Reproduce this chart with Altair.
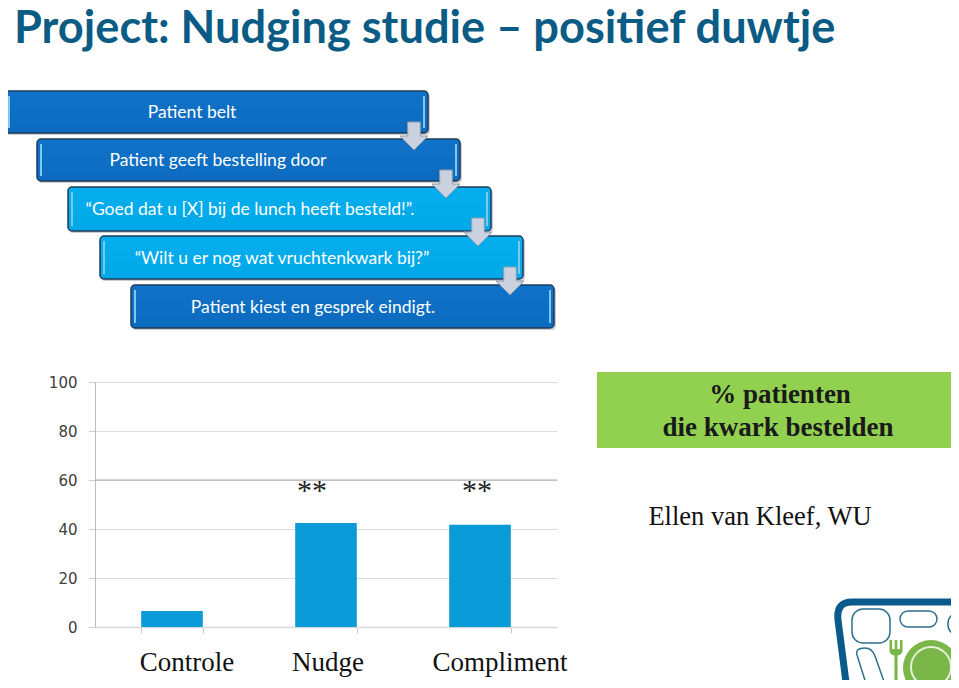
import altair as alt
import pandas as pd

TITLE = "Project: Nudging studie – positief duwtje"
CATEGORIES = ["Controle", "Nudge", "Compliment"]
VALUES = [6.5, 42.4, 41.7]
Y_TICKS = [0, 20, 40, 60, 80, 100]
STEPS = ["Patient belt", "Patient geeft bestelling door",
         "“Goed dat u [X] bij de lunch heeft besteld!”.",
         "“Wilt u er nog wat vruchtenkwark bij?”",
         "Patient kiest en gesprek eindigt."]
STEP_LIGHT = [False, False, True, True, False]
SIG = "**"
NOTE = ["% patienten", "die kwark bestelden"]
CREDIT = "Ellen van Kleef, WU"

OX, OY = 95, 382   # page position of the plot's origin
one = alt.Data(values=[{"a": 1}])
SERIF = "Liberation Serif"
SANS = "Lato"


def rect(x0, y0, x1, y1, **kw):
    return alt.Chart(one).mark_rect(**kw).encode(
        x=alt.value(x0 - OX), x2=alt.value(x1 - OX),
        y=alt.value(y0 - OY), y2=alt.value(y1 - OY))


def text(s, x, y, **kw):
    return alt.Chart(one).mark_text(**kw).encode(
        x=alt.value(x - OX), y=alt.value(y - OY), text=alt.value(s))


def symbol(path, x, y, r, **kw):
    return alt.Chart(one).mark_point(shape=path, size=(2 * r) ** 2, opacity=1, **kw).encode(
        x=alt.value(x - OX), y=alt.value(y - OY))


df = pd.DataFrame({"cat": CATEGORIES, "val": VALUES})

y_scale = alt.Scale(domain=[0, 100])
base_x = alt.X("cat:N", sort=CATEGORIES,
               scale=alt.Scale(paddingInner=0.6, paddingOuter=0.3),
               axis=alt.Axis(title=None, labels=False, tickBand="extent", tickSize=6,
                             tickColor="#c8c8c8", domainColor="#d9d9d9", domainWidth=1.5, grid=False))
base_y = alt.Y("val:Q", scale=y_scale,
               axis=alt.Axis(title=None, values=Y_TICKS, tickSize=7, tickColor="#cfcfcf",
                             domainColor="#bdbdbd", gridColor="#dcdcdc", gridWidth=1.2,
                             labelFont="DejaVu Sans", labelFontSize=15, labelColor="#404040", labelPadding=11))

bars = alt.Chart(alt.Data(values=df.to_dict("records"))).mark_bar(color="#0a9ad8").encode(x=base_x, y=base_y)
line60 = alt.Chart(alt.Data(values=[{"val": 60}])).mark_rule(color="#a8a8a8", strokeWidth=1).encode(
    y=base_y, x=alt.value(0), x2=alt.value(462))

layers = [line60, bars]

# title
layers.append(text(TITLE, 14, 43, font=SANS, fontWeight="bold", fontSize=45.2, align="left",
                   baseline="alphabetic", color="#0b5c85"))

# flow boxes
box_x = [5, 37, 68, 100, 131]
box_y = [(91, 133), (139, 181), (187, 231), (236, 279), (285, 328)]
text_x = [192, 218, 250, 282, 313]
for i, s in enumerate(STEPS):
    x0, (y0, y1) = box_x[i], box_y[i]
    x1 = x0 + 423
    top, bot = ("#06aeee", "#00a8e8") if STEP_LIGHT[i] else ("#1072c8", "#0c6bbf")
    layers.append(rect(x0 + 1, y0 + 2, x1 + 2, y1 + 2, color="#b8b8b8", cornerRadius=4, opacity=0.7))
    layers.append(rect(x0, y0, x1, y1, cornerRadius=4, stroke="#1d3c5c", strokeWidth=1.5,
                       color=alt.Gradient(gradient="linear", x1=0, x2=0, y1=0, y2=1,
                                          stops=[alt.GradientStop(color=top, offset=0),
                                                 alt.GradientStop(color=bot, offset=1)])))
    layers.append(rect(x0 + 3, y0 + 5, x0 + 5, y1 - 5, color="#7cc8f0"))
    layers.append(rect(x1 - 5, y0 + 5, x1 - 3, y1 - 5, color="#7cc8f0"))
    layers.append(text(s, text_x[i], (y0 + y1) / 2 + 1, font=SANS, fontSize=17.5, color="#ffffff",
                       align="center", baseline="middle"))

ARROW = "M-0.45,-1 L0.45,-1 L0.45,0 L1,0 L0,1 L-1,0 L-0.45,0 Z"
for ax, ay in [(414, 136), (446, 184), (478, 232), (510, 281)]:
    layers.append(symbol(ARROW, ax, ay, 14, filled=True, fill="#c9d2de", stroke="#8d9db0", strokeWidth=1))

# note panel
layers.append(rect(597, 372, 965, 448, color="#92d050"))
layers.append(text(NOTE[0], 780, 395, font=SERIF, fontWeight="bold", fontSize=27, color="#1a1a1a",
                   align="center", baseline="middle"))
layers.append(text(NOTE[1], 778, 428, font=SERIF, fontWeight="bold", fontSize=27, color="#1a1a1a",
                   align="center", baseline="middle"))
layers.append(text(CREDIT, 760, 517, font=SERIF, fontSize=26.5, color="#111111", align="center", baseline="middle"))

# category labels and significance marks
for s, x in zip(CATEGORIES, [187, 328, 500]):
    layers.append(text(s, x, 663, font=SERIF, fontSize=27, color="#111111", align="center", baseline="middle"))
for x in [312, 477]:
    layers.append(text(SIG, x, 491, font=SERIF, fontSize=30, color="#222222", align="center", baseline="middle"))

# logo
BLUE = "#0a5a8c"
TRAY = "M-0.53,0.4 L-0.62,-0.3 Q-0.64,-0.48 -0.48,-0.48 L0.7,-0.48"
layers.append(symbol(TRAY, 900, 650, 100, filled=False, stroke=BLUE, strokeWidth=7))
layers.append(rect(852, 609, 890, 643, stroke="#2f6f8f", strokeWidth=1.5, cornerRadius=11, fill="#ffffff"))
layers.append(rect(900, 611, 937, 627, stroke="#2f6f8f", strokeWidth=1.5, cornerRadius=8, fill="#ffffff"))
layers.append(rect(948, 613, 985, 635, stroke="#2f6f8f", strokeWidth=1.5, cornerRadius=10, fill="#ffffff"))
PILL = "M-0.32,0.4 L-0.43,0.05 Q-0.45,-0.02 -0.35,-0.02 Q-0.28,-0.02 -0.25,0.06 L-0.13,0.4"
layers.append(symbol(PILL, 900, 650, 100, filled=False, stroke="#2f6f8f", strokeWidth=1.5))
FORK = "M-0.5,-1 L-0.5,-0.2 Q-0.5,0.1 -0.12,0.2 L-0.12,3 L0.12,3 L0.12,0.2 Q0.5,0.1 0.5,-0.2 L0.5,-1 L0.3,-1 L0.3,-0.3 L0.1,-0.3 L0.1,-1 L-0.1,-1 L-0.1,-0.3 L-0.3,-0.3 L-0.3,-1 Z"
layers.append(symbol(FORK, 896, 653, 13, filled=True, fill="#7ab648", strokeWidth=0))
layers.append(alt.Chart(one).mark_point(shape="circle", filled=True, fill="#7ab648", size=(2 * 28) ** 2, opacity=1, strokeWidth=0)
              .encode(x=alt.value(931 - OX), y=alt.value(668 - OY)))
layers.append(alt.Chart(one).mark_point(shape="circle", filled=False, stroke="#e4f0d8", size=(2 * 20) ** 2, opacity=1, strokeWidth=2)
              .encode(x=alt.value(931 - OX), y=alt.value(667 - OY)))

chart = alt.layer(*layers).properties(
    width=462, height=245,
    autosize=alt.AutoSizeParams(type="none"),
    padding={"left": 87, "top": 374, "right": 394, "bottom": 53},
).configure_view(stroke=None)

chart.save("out.html", embed_options={"renderer": "svg", "actions": False})
